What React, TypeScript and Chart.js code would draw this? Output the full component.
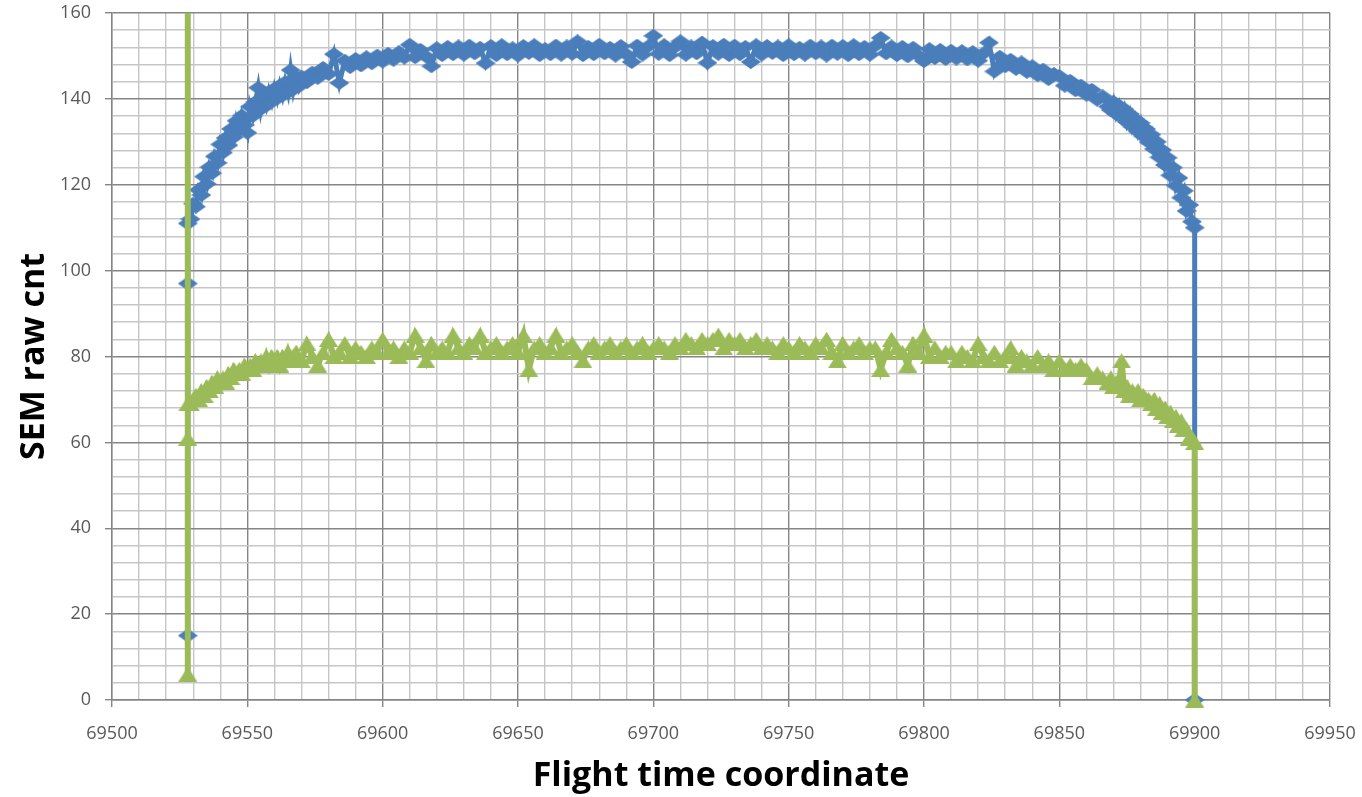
import React, { useEffect, useRef } from "react";
import { Chart, registerables } from "chart.js";

Chart.register(...registerables);

// Sampling instants along the flight-time axis
// (every unit on the steep ramps, every second unit across the plateau)
const sampleTimes = [
  69529, 69530, 69531, 69532, 69533, 69534, 69535, 69536, 69537, 69538,
  69539, 69540, 69541, 69542, 69543, 69544, 69545, 69546, 69547, 69548,
  69549, 69550, 69551, 69552, 69553, 69554, 69555, 69556, 69557, 69558,
  69559, 69560, 69561, 69562, 69563, 69564, 69565, 69566, 69567, 69568, 69569,
  69570, 69572, 69574, 69576, 69578, 69580, 69582, 69584, 69586, 69588,
  69590, 69592, 69594, 69596, 69598, 69600, 69602, 69604, 69606, 69608,
  69610, 69612, 69614, 69616, 69618, 69620, 69622, 69624, 69626, 69628,
  69630, 69632, 69634, 69636, 69638, 69640, 69642, 69644, 69646, 69648,
  69650, 69652, 69654, 69656, 69658, 69660, 69662, 69664, 69666, 69668,
  69670, 69672, 69674, 69676, 69678, 69680, 69682, 69684, 69686, 69688,
  69690, 69692, 69694, 69696, 69698, 69700, 69702, 69704, 69706, 69708,
  69710, 69712, 69714, 69716, 69718, 69720, 69722, 69724, 69726, 69728,
  69730, 69732, 69734, 69736, 69738, 69740, 69742, 69744, 69746, 69748,
  69750, 69752, 69754, 69756, 69758, 69760, 69762, 69764, 69766, 69768,
  69770, 69772, 69774, 69776, 69778, 69780, 69782, 69784, 69786, 69788,
  69790, 69792, 69794, 69796, 69798, 69800, 69802, 69804, 69806, 69808,
  69810, 69812, 69814, 69816, 69818, 69820, 69822, 69824, 69826, 69828,
  69830, 69832, 69834, 69836, 69838, 69840, 69842, 69844, 69846, 69848,
  69850, 69852, 69854, 69856, 69858, 69860, 69862, 69864, 69866, 69868,
  69869, 69870, 69871, 69872, 69873, 69874, 69875, 69876, 69877, 69878,
  69879, 69880, 69881, 69882, 69883, 69884, 69885, 69886, 69887, 69888,
  69889, 69890, 69891, 69892, 69893, 69894, 69895, 69896, 69897, 69898, 69899,
];

// Blue channel raw counts at each sample instant
const blueCounts = [
  112.0, 115.6, 114.9, 118.8, 117.6, 121.9, 120.2, 124.1, 122.7, 126.6,
  125.1, 129.4, 127.5, 130.9, 129.2, 133.0, 131.1, 134.9, 132.8, 136.1,
  133.9, 132.1, 138.2, 136.0, 139.3, 142.6, 137.6, 140.7, 138.5, 141.6,
  139.4, 142.4, 140.1, 143.1, 140.8, 143.9, 141.5, 146.7, 142.2, 145.1, 142.9,
  145.2, 143.9, 146.1, 144.9, 147.2, 145.8, 150.4, 143.7, 148.9, 147.4,
  149.3, 147.8, 149.7, 148.3, 150.1, 148.7, 150.5, 149.1, 150.9, 149.6,
  152.6, 149.7, 151.4, 149.9, 147.6, 151.8, 150.2, 152.1, 150.4, 152.2,
  150.3, 152.4, 150.6, 151.9, 148.3, 152.3, 150.2, 152.5, 150.4, 151.8,
  150.1, 152.3, 150.7, 152.5, 150.2, 151.6, 150.4, 152.4, 150.3, 152.2,
  150.5, 153.4, 150.2, 152.1, 150.4, 152.6, 150.6, 151.9, 150.1, 152.3,
  150.4, 148.6, 152.4, 150.3, 152.2, 154.7, 150.5, 152.5, 150.2, 152.1,
  153.4, 150.3, 152.2, 150.6, 153.1, 148.4, 152.3, 150.5, 152.6, 150.2,
  152.4, 150.4, 152.1, 148.6, 152.5, 150.3, 152.3, 150.7, 152.2, 150.2,
  152.5, 150.4, 151.9, 150.3, 152.4, 150.6, 152.2, 150.1, 152.4, 150.5,
  152.3, 150.2, 152.5, 150.4, 152.1, 150.3, 152.4, 154.2, 150.6, 152.2,
  150.2, 152.1, 149.9, 151.9, 150.1, 148.8, 151.6, 149.5, 151.4, 149.3,
  151.2, 149.4, 151.1, 149.2, 150.9, 148.9, 150.6, 153.1, 146.4, 149.8,
  147.6, 149.1, 147.0, 148.5, 146.3, 147.6, 145.5, 146.8, 144.6, 145.8,
  145.3, 143.1, 144.2, 142.0, 143.1, 141.0, 142.1, 139.8, 140.6, 138.2,
  137.4, 139.3, 136.5, 138.4, 135.7, 137.6, 134.6, 136.5, 133.5, 135.3,
  132.4, 134.4, 131.3, 133.0, 129.9, 131.7, 128.3, 130.0, 126.4, 128.1,
  124.6, 126.3, 122.2, 124.0, 119.8, 121.6, 117.0, 118.6, 113.9, 115.3, 111.4,
];

// Green channel raw counts at each sample instant
const greenCounts = [
  69, 70, 71, 70, 72, 71, 73, 72, 74, 73,
  75, 74, 75, 74, 76, 75, 77, 76, 77, 76,
  78, 77, 78, 77, 79, 78, 79, 78, 80, 78,
  80, 79, 80, 78, 80, 79, 81, 79, 80, 81, 79,
  79, 83, 80, 78, 81, 84, 80, 81, 83, 80,
  82, 81, 80, 82, 81, 84, 81, 82, 80, 82,
  81, 85, 82, 79, 83, 81, 82, 81, 85, 82,
  81, 83, 82, 85, 81, 82, 83, 81, 82, 83,
  81, 85, 77, 82, 83, 81, 82, 85, 81, 82,
  83, 81, 79, 82, 83, 81, 82, 83, 81, 82,
  83, 81, 82, 83, 81, 82, 83, 82, 81, 83,
  82, 84, 83, 82, 84, 83, 84, 85, 82, 84,
  83, 84, 82, 83, 84, 82, 83, 82, 81, 83,
  82, 81, 83, 82, 81, 83, 82, 84, 81, 79,
  83, 81, 82, 83, 81, 82, 82, 77, 81, 84,
  82, 81, 78, 83, 81, 85, 80, 82, 80, 81,
  81, 79, 81, 80, 79, 83, 80, 79, 81, 79,
  80, 82, 78, 80, 79, 78, 80, 78, 79, 77,
  79, 77, 78, 77, 78, 77, 75, 76, 75, 74,
  75, 73, 74, 73, 79, 72, 73, 71, 72, 71,
  72, 70, 71, 70, 70, 69, 70, 68, 69, 67,
  68, 66, 67, 65, 66, 64, 65, 63, 63, 61, 61,
];

// Readings logged at the opening and closing instants of the window
const START_TIME = 69528;
const END_TIME = 69900;
const blueStartCounts = [15, 97, 111];
const greenStartCounts = [250, 6, 61, 69];
const blueEndCounts = [110, 0];
const greenEndCounts = [60, 0];

// Axis tick settings
const X_MIN = 69500;
const X_MAX = 69950;
const X_MINOR_STEP = 10;
const X_LABEL_STEP = 50;
const Y_MIN = 0;
const Y_MAX = 160;
const Y_MINOR_STEP = 4;
const Y_LABEL_STEP = 20;

const BLUE = "#4a7ebb";
const GREEN = "#9bbb59";
const MAJOR_GRID = "#858585";
const MINOR_GRID = "#c6c6c6";

function buildSeries(startCounts: number[], counts: number[], endCounts: number[]) {
  return [
    ...startCounts.map((y) => ({ x: START_TIME, y })),
    ...sampleTimes.map((x, i) => ({ x, y: counts[i] })),
    ...endCounts.map((y) => ({ x: END_TIME, y })),
  ];
}

const isMultiple = (v: number, step: number) => Math.abs(Math.round(v) % step) === 0;

// Marker sprites, centred on their bounding box when drawn
function diamondMarker(color: string, w: number, h: number) {
  const c = document.createElement("canvas");
  c.width = w;
  c.height = h;
  const g = c.getContext("2d")!;
  g.fillStyle = color;
  g.beginPath();
  g.moveTo(w / 2, 0);
  g.lineTo(w, h / 2);
  g.lineTo(w / 2, h);
  g.lineTo(0, h / 2);
  g.closePath();
  g.fill();
  return c;
}

function triangleMarker(color: string, w: number, h: number) {
  const c = document.createElement("canvas");
  c.width = w;
  c.height = h;
  const g = c.getContext("2d")!;
  g.fillStyle = color;
  g.beginPath();
  g.moveTo(w / 2, 0);
  g.lineTo(w, h);
  g.lineTo(0, h);
  g.closePath();
  g.fill();
  return c;
}

export default function App() {
  const canvasRef = useRef<HTMLCanvasElement>(null);

  useEffect(() => {
    const canvas = canvasRef.current;
    if (!canvas) return;

    const tickFont = { family: "'Open Sans', sans-serif", size: 18 };
    const titleFont = { family: "'Open Sans', sans-serif", size: 34, weight: "bold" as const };

    const gridFor = (labelStep: number) => ({
      color: (ctx: any) => (ctx.tick && isMultiple(ctx.tick.value, labelStep) ? MAJOR_GRID : MINOR_GRID),
      tickColor: (ctx: any) =>
        ctx.tick && isMultiple(ctx.tick.value, labelStep) ? MAJOR_GRID : "rgba(0,0,0,0)",
      lineWidth: 1.4,
      tickLength: 7,
      drawTicks: true,
    });

    const clipArea = { left: 14, top: 0, right: 14, bottom: 14 };

    const chart = new Chart(canvas, {
      type: "scatter",
      data: {
        datasets: [
          {
            label: "Green",
            data: buildSeries(greenStartCounts, greenCounts, greenEndCounts),
            showLine: true,
            borderColor: GREEN,
            backgroundColor: GREEN,
            borderWidth: 6,
            pointStyle: triangleMarker(GREEN, 19, 15),
            pointRadius: 9,
            order: 0,
            clip: clipArea,
          },
          {
            label: "Blue",
            data: buildSeries(blueStartCounts, blueCounts, blueEndCounts),
            showLine: true,
            borderColor: BLUE,
            backgroundColor: BLUE,
            borderWidth: 5,
            pointStyle: diamondMarker(BLUE, 20, 14),
            pointRadius: 9,
            order: 1,
            clip: clipArea,
          },
        ],
      },
      options: {
        animation: false,
        responsive: false,
        events: [],
        layout: { autoPadding: false, padding: { top: 13, right: 32, left: 0, bottom: 0 } },
        elements: { line: { tension: 0 } },
        plugins: {
          legend: { display: false },
          tooltip: { enabled: false },
        },
        scales: {
          x: {
            type: "linear",
            min: X_MIN,
            max: X_MAX,
            afterFit: (scale: any) => {
              scale.height = 97;
              scale.paddingLeft = 0;
              scale.paddingRight = 0;
            },
            ticks: {
              stepSize: X_MINOR_STEP,
              autoSkip: false,
              maxRotation: 0,
              padding: 16,
              color: "#595959",
              font: tickFont,
              callback: (v: any) => (isMultiple(Number(v), X_LABEL_STEP) ? String(Math.round(Number(v))) : ""),
            },
            grid: gridFor(X_LABEL_STEP),
            border: { color: MAJOR_GRID, width: 1.4 },
            title: {
              display: true,
              text: "Flight time coordinate",
              color: "#000000",
              font: titleFont,
              padding: { top: 6, bottom: 0 },
            },
          },
          y: {
            type: "linear",
            min: Y_MIN,
            max: Y_MAX,
            afterFit: (scale: any) => {
              scale.width = 112;
              scale.paddingTop = 0;
              scale.paddingBottom = 0;
            },
            ticks: {
              stepSize: Y_MINOR_STEP,
              autoSkip: false,
              padding: 14,
              color: "#595959",
              font: tickFont,
              callback: (v: any) => (isMultiple(Number(v), Y_LABEL_STEP) ? String(Math.round(Number(v))) : ""),
            },
            grid: gridFor(Y_LABEL_STEP),
            border: { color: MAJOR_GRID, width: 1.4 },
            title: {
              display: true,
              text: "SEM raw cnt",
              color: "#000000",
              font: titleFont,
              padding: { top: 14, bottom: 0 },
            },
          },
        },
      },
    } as any);

    return () => chart.destroy();
  }, []);

  return (
    <div
      style={{
        position: "fixed",
        left: 0,
        top: 0,
        width: 1362,
        height: 797,
        background: "#ffffff",
      }}
    >
      <canvas ref={canvasRef} width={1362} height={797} style={{ display: "block" }} />
    </div>
  );
}
